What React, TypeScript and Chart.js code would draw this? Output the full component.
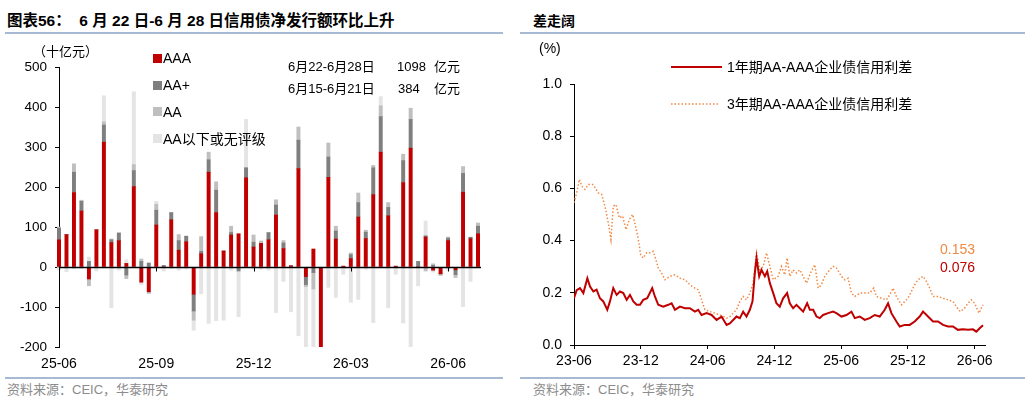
import React, { useEffect, useRef } from 'react';
import { Chart, registerables } from 'chart.js';
Chart.register(...registerables);

const FONT = '"Liberation Sans", Arial, "Noto Sans CJK SC", sans-serif';

// ---------- Left chart: weekly net issuance (十亿元) ----------
const weekCount = 57;
const weekStart = '2025-06-01';
const xTickLabels = ['25-06', '25-09', '25-12', '26-03', '26-06'];
const xTickEvery = 13;

const seriesNames = ['AAA', 'AA+', 'AA', 'AA以下或无评级'];
const seriesColors = ['#C00000', '#7F7F7F', '#BFBFBF', '#E4E4E4'];

const aaa = [68, 81, 186, 140, -30, 93, 312, 61, 66, 9, 201, -38, -62, 105, 0, 118, 42, 63, -68, 33, 237, 136, 40, 80, 83, 223, 50, 59, 68, 130, 46, 3, 246, -24, 45, -215, 224, 70, 2, 21, 125, 71, 181, 287, 128, 2, 211, 297, 0, 75, -8, -17, 66, -7, 187, 71, 83];
const aaPlus = [29, 0, 51, 24, 14, 0, 43, 7, 19, -20, 40, 14, 10, 37, 4, 18, 24, 14, -42, 6, 31, 56, 0, 6, -10, 25, 12, 0, 18, 25, 14, 0, 71, -20, -14, 0, 51, 20, 0, 10, 36, 16, 67, 89, 21, 0, 55, 72, 14, 3, 4, 0, 6, -12, 47, 3.4, 19];
const aa = [3, 0, 21, 3, -17, 0, 8, 2, 0, -9, 15, 6, -4, 15, 0, 0, 15, 0, -23, 37, 19, 21, 0, 16, 0, 0, 18, 6, 0, 13, 6, 1, 33, -5, -41, 0, 35, 12, 0, 4, 24, 5, 6, 27, 12, 0, 16, 28, 0, -10, 4, -4, 3, -7, 17, 0, 7.8];
const belowAA = [-8, -12, -5, -4, 11, -10, 65, -102, -8, 9, 182, -6, 0, 7, -10, -3, -8, -5, -25, -67, -141, -134, -133, -8, -114, 121, -5, -6, -8, -114, -36, -112, -172, -151, -145, 0, -51, -76, -18, -88, -81, -6, -139, 23, -102, -18, -140, -205, -47, 37, -5, 0, -8, 0, -99, -36, 0];

const noteRows = [
  { period: '6月22-6月28日', amount: '1098' },
  { period: '6月15-6月21日', amount: '384' },
];

// ---------- Right chart: credit spreads (%) ----------
const spreadTickLabels = ['23-06', '23-12', '24-06', '24-12', '25-06', '25-12', '26-06'];
// x = months since 2023-06
const oneYearX = [0, 0.24, 0.54, 0.84, 1.2, 1.44, 1.74, 2.03, 2.33, 2.63, 2.99, 3.23, 3.53, 3.83, 4.13, 4.43, 4.73, 5.03, 5.33, 5.63, 5.93, 6.22, 6.58, 7.03, 7.27, 7.57, 8.02, 8.47, 8.77, 9.07, 9.52, 9.97, 10.41, 10.86, 11.16, 11.46, 11.91, 12.36, 12.81, 13.26, 13.71, 14.0, 14.3, 14.6, 14.9, 15.2, 15.5, 15.8, 16.04, 16.25, 16.4, 16.64, 16.85, 17.15, 17.36, 17.6, 17.9, 18.19, 18.49, 18.79, 19.15, 19.39, 19.69, 19.99, 20.29, 20.59, 20.95, 21.19, 21.49, 21.79, 22.08, 22.38, 22.83, 23.28, 23.58, 24.03, 24.48, 24.93, 25.23, 25.68, 26.12, 26.57, 27.02, 27.47, 27.92, 28.22, 28.52, 28.97, 29.27, 29.72, 30.16, 30.61, 31.06, 31.36, 31.81, 32.26, 32.71, 33.16, 33.61, 34.05, 34.5, 34.95, 35.4, 35.85, 36.15, 36.45, 36.75];
const oneYearY = [0.179, 0.21, 0.218, 0.199, 0.256, 0.224, 0.205, 0.212, 0.179, 0.167, 0.135, 0.167, 0.218, 0.192, 0.205, 0.199, 0.173, 0.192, 0.167, 0.154, 0.154, 0.173, 0.179, 0.218, 0.186, 0.154, 0.147, 0.154, 0.16, 0.135, 0.147, 0.141, 0.141, 0.128, 0.135, 0.115, 0.122, 0.115, 0.096, 0.109, 0.077, 0.083, 0.096, 0.109, 0.103, 0.128, 0.109, 0.135, 0.167, 0.276, 0.333, 0.263, 0.288, 0.263, 0.282, 0.237, 0.199, 0.16, 0.147, 0.179, 0.199, 0.16, 0.141, 0.154, 0.141, 0.128, 0.16, 0.135, 0.135, 0.109, 0.103, 0.115, 0.122, 0.128, 0.122, 0.109, 0.115, 0.128, 0.103, 0.109, 0.096, 0.103, 0.115, 0.109, 0.135, 0.16, 0.122, 0.09, 0.071, 0.077, 0.077, 0.09, 0.109, 0.128, 0.109, 0.09, 0.09, 0.077, 0.071, 0.071, 0.058, 0.06, 0.058, 0.06, 0.051, 0.064, 0.076];
const threeYearX = [0, 0.24, 0.48, 0.69, 0.99, 1.29, 1.68, 1.89, 2.18, 2.48, 2.78, 3.08, 3.32, 3.53, 3.77, 4.07, 4.37, 4.67, 4.97, 5.27, 5.57, 5.78, 5.99, 6.22, 6.52, 6.82, 7.12, 7.36, 7.57, 7.87, 8.17, 8.62, 9.07, 9.52, 9.97, 10.41, 10.86, 11.16, 11.46, 11.76, 12.21, 12.66, 13.11, 13.41, 13.71, 14.0, 14.3, 14.6, 14.9, 15.2, 15.5, 15.8, 16.1, 16.4, 16.7, 17.0, 17.3, 17.6, 17.9, 18.34, 18.64, 18.94, 19.15, 19.39, 19.69, 19.99, 20.29, 20.59, 20.89, 21.25, 21.64, 21.94, 22.23, 22.53, 22.98, 23.28, 23.58, 24.03, 24.33, 24.63, 24.93, 25.23, 25.68, 26.12, 26.57, 26.93, 27.17, 27.62, 28.07, 28.37, 28.67, 28.97, 29.42, 29.72, 30.01, 30.31, 30.61, 30.91, 31.36, 31.66, 31.96, 32.26, 32.71, 33.16, 33.61, 34.05, 34.35, 34.71, 35.1, 35.4, 35.7, 36.0, 36.39, 36.75];
const threeYearY = [0.545, 0.583, 0.635, 0.609, 0.596, 0.615, 0.615, 0.603, 0.583, 0.577, 0.532, 0.468, 0.404, 0.532, 0.538, 0.487, 0.494, 0.442, 0.481, 0.5, 0.449, 0.404, 0.346, 0.333, 0.353, 0.353, 0.359, 0.327, 0.295, 0.276, 0.25, 0.263, 0.269, 0.256, 0.25, 0.231, 0.218, 0.212, 0.173, 0.135, 0.128, 0.122, 0.115, 0.109, 0.103, 0.109, 0.122, 0.135, 0.167, 0.186, 0.173, 0.199, 0.237, 0.353, 0.288, 0.301, 0.353, 0.301, 0.25, 0.263, 0.301, 0.269, 0.333, 0.263, 0.288, 0.276, 0.288, 0.263, 0.237, 0.276, 0.308, 0.218, 0.231, 0.263, 0.288, 0.301, 0.295, 0.263, 0.25, 0.256, 0.199, 0.186, 0.199, 0.199, 0.199, 0.218, 0.186, 0.179, 0.173, 0.192, 0.218, 0.186, 0.154, 0.167, 0.179, 0.205, 0.231, 0.25, 0.263, 0.244, 0.218, 0.186, 0.186, 0.179, 0.173, 0.167, 0.147, 0.128, 0.141, 0.16, 0.173, 0.16, 0.122, 0.154];
const spreadNames = ['1年期AA-AAA企业债信用利差', '3年期AA-AAA企业债信用利差'];
const lastValues = ['0.153', '0.076'];

function weekLabels(): string[] {
  const out: string[] = [];
  const d0 = new Date(weekStart + 'T00:00:00Z');
  for (let i = 0; i < weekCount; i++) {
    const d = new Date(d0.getTime() + i * 7 * 86400000);
    out.push(d.toISOString().slice(0, 10));
  }
  return out;
}

const zeroLinePlugin = {
  id: 'zeroLine',
  afterDatasetsDraw(chart: any) {
    const { ctx, chartArea, scales } = chart;
    const y = Math.round(scales.y.getPixelForValue(0)) + 0.5;
    ctx.save();
    ctx.strokeStyle = '#000';
    ctx.lineWidth = 1.3;
    ctx.beginPath();
    ctx.moveTo(chartArea.left, y);
    ctx.lineTo(chartArea.right + 3, y);
    ctx.stroke();
    ctx.lineWidth = 1;
    ctx.beginPath();
    for (let i = 0; i < weekCount; i += xTickEvery) {
      const x = Math.round(scales.x.getPixelForValue(i)) + 0.5;
      ctx.moveTo(x, y);
      ctx.lineTo(x, y + 4);
    }
    ctx.stroke();
    ctx.restore();
  },
};

const abs = (s: any): React.CSSProperties => ({ position: 'absolute', whiteSpace: 'nowrap', lineHeight: 1, fontFamily: FONT, ...s });

export default function App() {
  const leftRef = useRef<HTMLCanvasElement>(null);
  const rightRef = useRef<HTMLCanvasElement>(null);

  useEffect(() => {
    Chart.defaults.font.family = FONT;
    Chart.defaults.color = '#000';
    const labels = weekLabels();
    const values = [aaa, aaPlus, aa, belowAA];
    const left = new Chart(leftRef.current!, {
      type: 'bar',
      data: {
        labels,
        datasets: values.map((v, i) => ({
          label: seriesNames[i],
          data: v,
          backgroundColor: seriesColors[i],
          borderWidth: 0,
          barThickness: 3.3,
          clip: { left: 4, right: 4, top: 0, bottom: 0 },
        })),
      },
      options: {
        animation: false,
        responsive: false,
        layout: { padding: { left: 0, right: 27, top: 67, bottom: 0 } },
        plugins: { legend: { display: false }, tooltip: { enabled: false } },
        scales: {
          x: {
            stacked: true,
            offset: false,
            grid: { display: false, drawTicks: false },
            border: { display: false },
            ticks: {
              autoSkip: false,
              maxRotation: 0,
              padding: 9,
              font: { size: 14 },
              callback: (_v: any, i: number) => (i % xTickEvery === 0 ? xTickLabels[i / xTickEvery] ?? '' : ''),
            },
            afterFit: (s: any) => { s.height = 28; },
          },
          y: {
            stacked: true,
            min: -200,
            max: 500,
            ticks: { stepSize: 100, padding: 8, font: { size: 13.5 } },
            grid: { drawOnChartArea: false, color: '#000', tickLength: 4 },
            border: { color: '#000', width: 1 },
            afterFit: (s: any) => { s.width = 59; },
          },
        },
      },
      plugins: [zeroLinePlugin],
    } as any);

    const right = new Chart(rightRef.current!, {
      type: 'line',
      data: {
        datasets: [
          {
            label: spreadNames[0],
            data: oneYearX.map((x, i) => ({ x, y: oneYearY[i] })),
            borderColor: '#C00000',
            borderWidth: 2,
            pointRadius: 0,
            tension: 0,
          },
          {
            label: spreadNames[1],
            data: threeYearX.map((x, i) => ({ x, y: threeYearY[i] })),
            borderColor: '#F08A45',
            borderWidth: 1.5,
            borderDash: [1.5, 2],
            pointRadius: 0,
            tension: 0,
          },
        ],
      },
      options: {
        animation: false,
        responsive: false,
        layout: { padding: { left: 0, right: 46, top: 84, bottom: 0 } },
        plugins: { legend: { display: false }, tooltip: { enabled: false } },
        scales: {
          x: {
            type: 'linear',
            min: 0,
            max: 36.93,
            ticks: {
              stepSize: 6,
              includeBounds: false,
              padding: 4,
              maxRotation: 0,
              font: { size: 14 },
              callback: (v: any) => spreadTickLabels[Math.round(v / 6)] ?? '',
            },
            grid: { drawOnChartArea: false, color: '#000', tickLength: 4 },
            border: { color: '#000', width: 1 },
            afterFit: (s: any) => { s.height = 30; },
          },
          y: {
            min: 0,
            max: 1,
            ticks: { stepSize: 0.2, padding: 8, font: { size: 14 }, callback: (v: any) => Number(v).toFixed(1) },
            grid: { drawOnChartArea: false, color: '#000', tickLength: 4 },
            border: { color: '#000', width: 1 },
            afterFit: (s: any) => { s.width = 54; },
          },
        },
      },
    } as any);
    return () => { left.destroy(); right.destroy(); };
  }, []);

  const legendRows = [58, 85, 111.5, 138.5];
  return (
    <div style={{ position: 'absolute', left: 0, top: 0, width: 1031, height: 402, background: '#fff', overflow: 'hidden' }}>
      {/* Left panel */}
      <div style={abs({ left: 7, top: 13, fontSize: 15.5, fontWeight: 'bold' })}>图表56：&nbsp;&nbsp;6 月 22 日-6 月 28 日信用债净发行额环比上升</div>
      <div style={{ position: 'absolute', left: 5, top: 32, width: 498, height: 2, background: '#A7B9D3' }} />
      <canvas ref={leftRef} width={505} height={375} style={{ position: 'absolute', left: 0, top: 0 }} />
      <div style={abs({ left: 33, top: 45, fontSize: 13 })}>（十亿元）</div>
      {seriesNames.map((n, i) => (
        <React.Fragment key={n}>
          <div style={{ position: 'absolute', left: 153, top: legendRows[i] - 4.5, width: 9, height: 9, background: seriesColors[i] }} />
          <div style={abs({ left: 163, top: legendRows[i] - 7, fontSize: 14 })}>{n}</div>
        </React.Fragment>
      ))}
      {noteRows.map((r, i) => (
        <React.Fragment key={r.period}>
          <div style={abs({ left: 288, top: 60 + i * 22, fontSize: 13 })}>{r.period}</div>
          <div style={abs({ left: i === 0 ? 397 : 398, top: 60 + i * 22, fontSize: 13 })}>{r.amount}</div>
          <div style={abs({ left: 434, top: 60 + i * 22, fontSize: 13 })}>亿元</div>
        </React.Fragment>
      ))}
      <div style={{ position: 'absolute', left: 5, top: 377, width: 498, height: 2, background: '#A7B9D3' }} />
      <div style={abs({ left: 7, top: 383, fontSize: 13, color: '#8C8C8C' })}>资料来源：CEIC，华泰研究</div>

      {/* Right panel */}
      <div style={abs({ left: 533, top: 14, fontSize: 14, fontWeight: 'bold' })}>差走阔</div>
      <div style={{ position: 'absolute', left: 520, top: 32, width: 505, height: 2, background: '#A7B9D3' }} />
      <canvas ref={rightRef} width={511} height={375} style={{ position: 'absolute', left: 520, top: 0 }} />
      <div style={abs({ left: 539, top: 41, fontSize: 14 })}>(%)</div>
      <svg style={{ position: 'absolute', left: 668, top: 60, width: 60, height: 50 }}>
        <line x1={3} y1={7} x2={54} y2={7} stroke="#C00000" strokeWidth={2} />
        <line x1={3} y1={44} x2={50} y2={44} stroke="#F08A45" strokeWidth={1.5} strokeDasharray="1.5 2" />
      </svg>
      <div style={abs({ left: 727, top: 60, fontSize: 14 })}>{spreadNames[0]}</div>
      <div style={abs({ left: 727, top: 97, fontSize: 14 })}>{spreadNames[1]}</div>
      <div style={abs({ left: 940, top: 242, fontSize: 14, color: '#F08A45' })}>{lastValues[0]}</div>
      <div style={abs({ left: 940, top: 260, fontSize: 14, color: '#C00000' })}>{lastValues[1]}</div>
      <div style={{ position: 'absolute', left: 520, top: 377, width: 505, height: 2, background: '#A7B9D3' }} />
      <div style={abs({ left: 533, top: 383, fontSize: 13, color: '#8C8C8C' })}>资料来源：CEIC，华泰研究</div>
    </div>
  );
}
